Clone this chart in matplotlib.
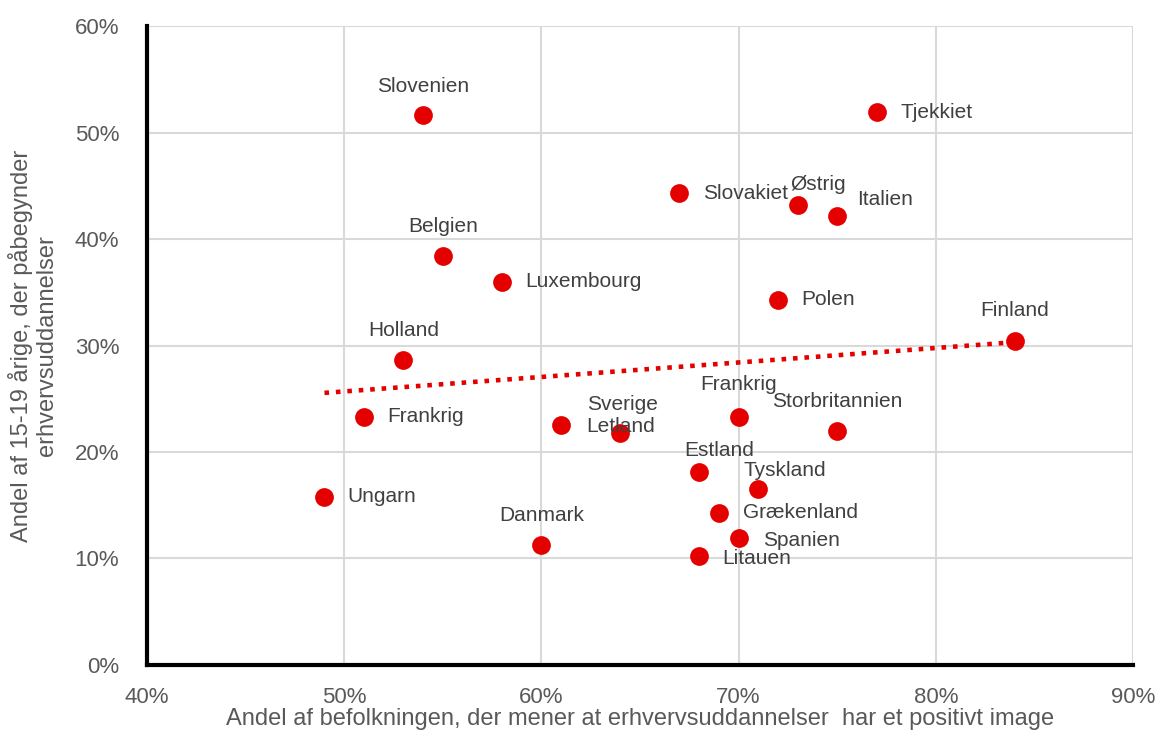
import numpy as np
import matplotlib
matplotlib.use('Agg')
import matplotlib.pyplot as plt
from matplotlib.ticker import PercentFormatter

plt.rcParams['font.family'] = ['Liberation Sans', 'DejaVu Sans']

countries = ['Slovenien', 'Tjekkiet', 'Slovakiet', 'Østrig', 'Italien', 'Belgien',
             'Luxembourg', 'Polen', 'Finland', 'Holland', 'Frankrig', 'Sverige',
             'Letland', 'Frankrig', 'Storbritannien', 'Estland', 'Tyskland', 'Ungarn',
             'Grækenland', 'Danmark', 'Spanien', 'Litauen']
image_pos = [54, 77, 67, 73, 75, 55, 58, 72, 84, 53, 51, 61,
             64, 70, 75, 68, 71, 49, 69, 60, 70, 68]
start_share = [51.6, 51.9, 44.3, 43.2, 42.2, 38.4, 36.0, 34.3, 30.4, 28.6, 23.3, 22.5,
               21.8, 23.3, 22.0, 18.1, 16.5, 15.8, 14.3, 11.3, 11.9, 10.2]

# label offsets in pixels (dx, dy, ha)
offsets = [(0, 29, 'center'), (24, 0, 'left'), (24, 0, 'left'), (20, 20, 'center'),
           (20, 16, 'left'), (0, 30, 'center'), (23, 0, 'left'), (23, 0, 'left'),
           (0, 31, 'center'), (0, 30, 'center'), (23, 0, 'left'), (61, 21, 'center'),
           (-34, 6, 'left'), (0, 32, 'center'), (0, 29, 'center'), (20, 22, 'center'),
           (26, 19, 'center'), (23, 0, 'left'), (24, 0, 'left'), (0, 29, 'center'),
           (24, -2, 'left'), (23, -2, 'left')]

red = '#e50000'
fig = plt.figure(figsize=(11.61, 7.31), dpi=100)
ax = fig.add_axes([0.1266, 0.0903, 0.8493, 0.8741])

x = np.array(image_pos)
y = np.array(start_share)
ax.plot(x, y, 'o', color=red, markersize=13.5, zorder=3, markeredgewidth=0)

k, m = np.polyfit(x, y, 1)
xs = np.array([x.min(), x.max()])
ax.plot(xs, k * xs + m, linestyle=(0, (1, 1.5)), color=red, linewidth=3.3, zorder=2)

for name, xi, yi, (dx, dy, ha) in zip(countries, x, y, offsets):
    ax.annotate(name, (xi, yi), xytext=(dx, dy), textcoords='offset pixels',
                ha=ha, va='center', fontsize=15, color='#404040', zorder=4)

ax.set_xlim(40, 90)
ax.set_ylim(0, 60)
ax.set_xticks(np.arange(40, 91, 10))
ax.set_yticks(np.arange(0, 61, 10))
ax.xaxis.set_major_formatter(PercentFormatter(decimals=0))
ax.yaxis.set_major_formatter(PercentFormatter(decimals=0))
ax.tick_params(length=0, labelsize=16, labelcolor='#595959')
ax.tick_params(axis='x', pad=16)
ax.tick_params(axis='y', pad=20)
ax.grid(True, color='#d9d9d9', linewidth=1.5)
ax.set_axisbelow(True)
for s in ['top', 'right']:
    ax.spines[s].set_visible(False)
for s in ['left', 'bottom']:
    ax.spines[s].set_linewidth(3)
    ax.spines[s].set_color('black')

ax.set_xlabel('Andel af befolkningen, der mener at erhvervsuddannelser  har et positivt image',
              fontsize=17, color='#595959', labelpad=0)
ax.set_ylabel('Andel af 15-19 årige, der påbegynder\nerhvervsuddannelser',
              fontsize=17, color='#595959', labelpad=12)

fig.savefig('out.png', dpi=100)
